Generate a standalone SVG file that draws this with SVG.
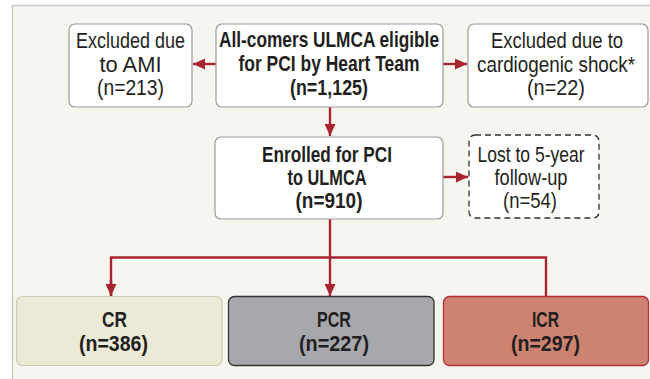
<svg xmlns="http://www.w3.org/2000/svg" width="650" height="379" viewBox="0 0 650 379">
  <defs>
    <marker id="arrow" viewBox="0 0 12 11" refX="12" refY="5.5" markerWidth="12" markerHeight="11" markerUnits="userSpaceOnUse" orient="auto">
      <path d="M0,0 L12,5.5 L0,11 Z" fill="#a8242e"/>
    </marker>
  </defs>
  <style>
    .panel { fill: #f6f5ef; stroke: #c9c9c6; stroke-width: 1.5; }
    .box { fill: #ffffff; stroke: #9c9c9c; stroke-width: 1.2; }
    .dash { fill: #ffffff; stroke: #333333; stroke-width: 1.3; stroke-dasharray: 6 4; }
    .cr { fill: #ece9d6; stroke: #cfcbb0; stroke-width: 1.2; }
    .pcr { fill: #a7a8ac; stroke: #333333; stroke-width: 1.3; }
    .icr { fill: #cd8370; stroke: #b5303a; stroke-width: 1.3; }
    text { font-family: "Liberation Sans", Arial, sans-serif; font-size: 22px; fill: #231f20; text-anchor: middle; }
    .b { font-weight: bold; }
    .link { fill: none; stroke: #a8242e; stroke-width: 2.4; }
  </style>

  <!-- background panel -->
  <rect class="panel" x="12.5" y="5.5" width="645" height="380"/>

  <!-- connectors -->
  <g id="connectors">
    <line class="link" x1="216" y1="64" x2="193" y2="64" marker-end="url(#arrow)"/>
    <line class="link" x1="443" y1="64" x2="467" y2="64" marker-end="url(#arrow)"/>
    <line class="link" x1="330" y1="107" x2="330" y2="136" marker-end="url(#arrow)"/>
    <line class="link" x1="443" y1="177" x2="468" y2="177" marker-end="url(#arrow)"/>
    <line class="link" x1="330" y1="219" x2="330" y2="296" marker-end="url(#arrow)"/>
    <polyline class="link" points="111,296 111,257.5 546,257.5 546,296"/>
    <line class="link" x1="111" y1="280" x2="111" y2="296" marker-end="url(#arrow)"/>
  </g>

  <g id="ami">
    <rect class="box" x="69" y="24" width="123" height="83" rx="6"/>
    <text x="130.5" y="48" textLength="109" lengthAdjust="spacingAndGlyphs">Excluded due</text>
    <text x="130.5" y="72" textLength="62" lengthAdjust="spacingAndGlyphs">to AMI</text>
    <text x="130.5" y="95" textLength="67" lengthAdjust="spacingAndGlyphs">(n=213)</text>
  </g>

  <g id="allcomers">
    <rect class="box" x="216" y="24" width="227" height="83" rx="6"/>
    <text class="b" x="329" y="47" textLength="220" lengthAdjust="spacingAndGlyphs">All-comers ULMCA eligible</text>
    <text class="b" x="329" y="71" textLength="181" lengthAdjust="spacingAndGlyphs">for PCI by Heart Team</text>
    <text class="b" x="329" y="95" textLength="78" lengthAdjust="spacingAndGlyphs">(n=1,125)</text>
  </g>

  <g id="shock">
    <rect class="box" x="468" y="24" width="180" height="83" rx="6"/>
    <text x="557" y="48" textLength="132" lengthAdjust="spacingAndGlyphs">Excluded due to</text>
    <text x="556" y="72" textLength="158" lengthAdjust="spacingAndGlyphs">cardiogenic shock*</text>
    <text x="556" y="95" textLength="58" lengthAdjust="spacingAndGlyphs">(n=22)</text>
  </g>

  <g id="enrolled">
    <rect class="box" x="215" y="137" width="228" height="82" rx="6"/>
    <text class="b" x="327" y="162" textLength="130" lengthAdjust="spacingAndGlyphs">Enrolled for PCI</text>
    <text class="b" x="327" y="185" textLength="79" lengthAdjust="spacingAndGlyphs">to ULMCA</text>
    <text class="b" x="329" y="208" textLength="67" lengthAdjust="spacingAndGlyphs">(n=910)</text>
  </g>

  <g id="lost">
    <rect class="dash" x="469" y="135" width="130" height="83" rx="6"/>
    <text x="531" y="162" textLength="107" lengthAdjust="spacingAndGlyphs">Lost to 5-year</text>
    <text x="531" y="185" textLength="73" lengthAdjust="spacingAndGlyphs">follow-up</text>
    <text x="530" y="208" textLength="54" lengthAdjust="spacingAndGlyphs">(n=54)</text>
  </g>

  <g id="cr">
    <rect class="cr" x="16.5" y="296.5" width="205.5" height="69" rx="6"/>
    <text class="b" x="114.5" y="327" textLength="25" lengthAdjust="spacingAndGlyphs">CR</text>
    <text class="b" x="113.5" y="351" textLength="69" lengthAdjust="spacingAndGlyphs">(n=386)</text>
  </g>

  <g id="pcr">
    <rect class="pcr" x="228.5" y="296.5" width="205.5" height="69" rx="6"/>
    <text class="b" x="334" y="327" textLength="34" lengthAdjust="spacingAndGlyphs">PCR</text>
    <text class="b" x="334" y="351" textLength="70" lengthAdjust="spacingAndGlyphs">(n=227)</text>
  </g>

  <g id="icr">
    <rect class="icr" x="443.5" y="296.5" width="205" height="69" rx="6"/>
    <text class="b" x="545.5" y="327" textLength="27" lengthAdjust="spacingAndGlyphs">ICR</text>
    <text class="b" x="545.5" y="351" textLength="69" lengthAdjust="spacingAndGlyphs">(n=297)</text>
  </g>
</svg>
